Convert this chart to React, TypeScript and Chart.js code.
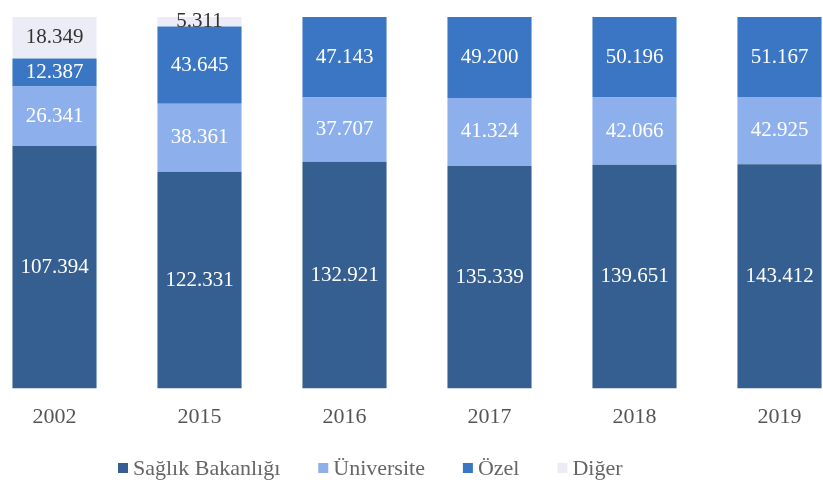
import React, { useEffect, useRef } from "react";
import { Chart, registerables } from "chart.js";

Chart.register(...registerables);

const years = ["2002", "2015", "2016", "2017", "2018", "2019"];
const seriesNames = ["Sağlık Bakanlığı", "Üniversite", "Özel", "Diğer"];
const saglik = [107394, 122331, 132921, 135339, 139651, 143412];
const universite = [26341, 38361, 37707, 41324, 42066, 42925];
const ozel = [12387, 43645, 47143, 49200, 50196, 51167];
const diger = [18349, 5311, 0, 0, 0, 0];

const colors = ["#365f91", "#8db0ec", "#3a76c4", "#ececf7"];
const labelColors = ["#ffffff", "#ffffff", "#ffffff", "#333333"];

const FONT = "'Liberation Serif', 'Times New Roman', serif";

function fmt(v: number): string {
  return String(v).replace(/\B(?=(\d{3})+(?!\d))/g, ".");
}

const rawSeries = [saglik, universite, ozel, diger];
const totals = years.map((_, i) => rawSeries.reduce((s, arr) => s + arr[i], 0));

const valueLabelPlugin = {
  id: "valueLabels",
  afterDatasetsDraw(chart: any) {
    const ctx = chart.ctx;
    ctx.save();
    ctx.font = `21px ${FONT}`;
    ctx.textAlign = "center";
    ctx.textBaseline = "middle";
    chart.data.datasets.forEach((ds: any, di: number) => {
      const meta = chart.getDatasetMeta(di);
      meta.data.forEach((el: any, i: number) => {
        const raw = rawSeries[di][i];
        if (!raw) return;
        const cy = (el.y + el.base) / 2;
        ctx.fillStyle = labelColors[di];
        ctx.fillText(fmt(raw), el.x, cy);
      });
    });
    ctx.restore();
  },
};

const legendPlugin = {
  id: "customLegend",
  afterDraw(chart: any) {
    const ctx = chart.ctx;
    ctx.save();
    ctx.font = `22px ${FONT}`;
    ctx.textBaseline = "middle";
    ctx.textAlign = "left";
    let x = 136;
    const y = 468;
    seriesNames.forEach((name, i) => {
      ctx.fillStyle = colors[i];
      ctx.fillRect(x, y - 5, 10, 10);
      ctx.fillStyle = "#666666";
      ctx.fillText(name, x + 15, y + 1);
      const w = ctx.measureText(name).width;
      x += 15 + w + 38;
    });
    ctx.restore();
  },
};

export default function App() {
  const ref = useRef<HTMLCanvasElement | null>(null);
  useEffect(() => {
    if (!ref.current) return;
    const datasets = rawSeries.map((arr, di) => ({
      label: seriesNames[di],
      data: arr.map((v, i) => (v / totals[i]) * 100),
      backgroundColor: colors[di],
      borderWidth: 0,
      categoryPercentage: 1,
      barPercentage: 0.58,
    }));
    const chart = new Chart(ref.current, {
      type: "bar",
      data: { labels: years, datasets },
      options: {
        responsive: false,
        animation: false,
        layout: { padding: { top: 17, bottom: 54, left: 0, right: 0 } },
        plugins: {
          legend: { display: false },
          tooltip: { enabled: false },
        },
        scales: {
          x: {
            stacked: true,
            grid: { display: false },
            border: { display: false },
            ticks: {
              padding: 7,
              color: "#555555",
              font: { family: FONT, size: 22 },
            },
          },
          y: {
            stacked: true,
            display: false,
            min: 0,
            max: 100,
          },
        },
      },
      plugins: [valueLabelPlugin, legendPlugin],
    });
    return () => chart.destroy();
  }, []);
  return (
    <div style={{ position: "fixed", left: 0, top: 0, width: 823, height: 491, overflow: "hidden", background: "#fff" }}>
      <canvas ref={ref} width={870} height={491} style={{ position: "absolute", left: -18, top: 0, display: "block" }} />
    </div>
  );
}
